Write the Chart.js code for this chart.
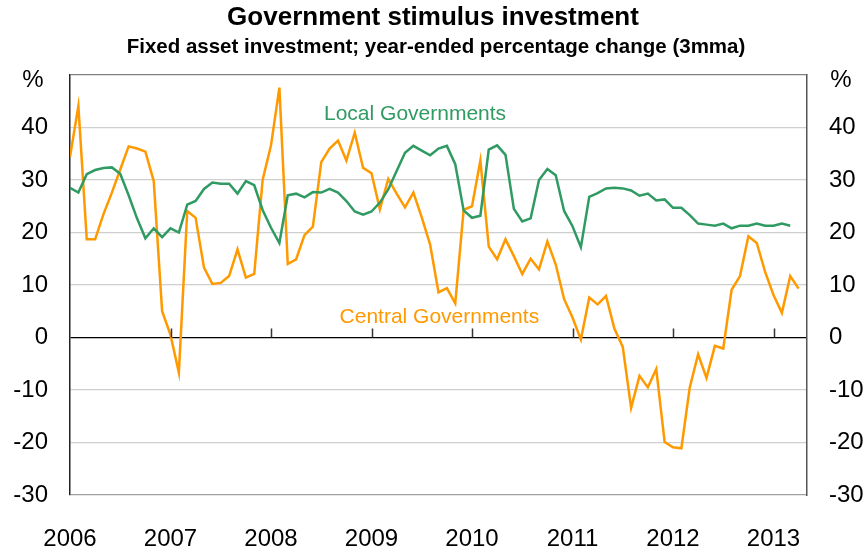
<!DOCTYPE html>
<html>
<head>
<meta charset="utf-8">
<title>Government stimulus investment</title>
<script src="https://cdn.jsdelivr.net/npm/chart.js@4.4.1/dist/chart.umd.min.js"></script>
<style>
  html, body { margin: 0; padding: 0; background: #fff; }
  #wrap { width: 867px; height: 551px; }
</style>
</head>
<body>
<div id="wrap"><canvas id="chart" width="867" height="551"></canvas></div>
<script>
// Monthly data, Jan 2006 onwards (index 0 = Jan 2006)
const years = ["2006", "2007", "2008", "2009", "2010", "2011", "2012", "2013"];

const localGov = [
    28.5, 27.6, 31.1, 31.9, 32.3, 32.4, 31.2, 27.1, 22.7, 18.9, 20.8, 19.1,
    20.8, 20.0, 25.3, 26.0, 28.3, 29.5, 29.3, 29.3, 27.4, 29.8, 29.0, 24.3,
    20.9, 18.0, 27.1, 27.4, 26.7, 27.7, 27.6, 28.3, 27.6, 26.0, 24.0, 23.4,
    24.0, 25.7, 28.2, 31.7, 35.2, 36.5, 35.6, 34.7, 36.0, 36.5, 33.0, 24.2,
    22.8, 23.2, 35.8, 36.6, 34.8, 24.5, 22.1, 22.7, 30.0, 32.1, 30.9, 24.1,
    21.2, 17.2, 26.8, 27.5, 28.4, 28.5, 28.4, 28.0, 27.0, 27.4, 26.1, 26.3,
    24.7, 24.7, 23.3, 21.7, 21.5, 21.3, 21.7, 20.8, 21.3, 21.3, 21.7, 21.3,
    21.3, 21.7, 21.3
];

const centralGov = [
    34.4, 44.1, 18.7, 18.7, 23.5, 27.6, 32.0, 36.4, 36.0, 35.4, 29.8, 5.0,
    0.5, -6.7, 24.1, 22.8, 13.3, 10.2, 10.4, 11.7, 16.8, 11.4, 12.1, 30.0,
    36.6, 47.6, 14.0, 14.9, 19.5, 21.1, 33.4, 36.0, 37.5, 33.7, 39.0, 32.3,
    31.3, 24.4, 30.2, 27.4, 24.8, 27.6, 22.9, 17.7, 8.6, 9.4, 6.5, 24.3,
    25.0, 33.7, 17.3, 14.9, 18.7, 15.5, 12.1, 15.0, 13.0, 18.3, 13.9, 7.3,
    3.8, -0.4, 7.6, 6.3, 7.9, 1.7, -1.8, -13.4, -7.3, -9.5, -6.0, -19.9,
    -20.9, -21.1, -9.5, -3.2, -7.7, -1.6, -2.1, 9.1, 11.7, 19.3, 18.0, 12.5,
    8.1, 4.7, 11.7, 9.3
];

const FONT = "'Liberation Sans', Arial, sans-serif";
const ORANGE = "#ff9900";
const GREEN = "#2f9a62";

function toPoints(arr) {
    return arr.map((v, i) => ({ x: i, y: v }));
}

// the top tick carries the unit sign, drawn separately a little lower
function yLabel(v) {
    return v === 50 ? "" : v;
}

function gridColour(ctx) {
    const v = ctx.tick.value;
    if (v === 0) return "#000000";
    if (v === 50) return "#808080";
    if (v === -30) return "#a0a0a0";
    return "#cfcfcf";
}

// Titles, series labels, unit signs and the year ticks on the zero line
const decorations = {
    id: "decorations",
    afterDatasetsDraw(chart) {
        const ctx = chart.ctx;
        const x = chart.scales.x;
        const y = chart.scales.y;
        const zero = y.getPixelForValue(0);
        const area = chart.chartArea;

        ctx.save();
        ctx.strokeStyle = "#333";
        ctx.lineWidth = 1.5;
        years.forEach((yr, i) => {
            if (i === 0) return;
            const px = Math.round(x.getPixelForValue(i * 12)) + 0.5;
            ctx.beginPath();
            ctx.moveTo(px, zero);
            ctx.lineTo(px, zero - 9);
            ctx.stroke();
        });

        ctx.textAlign = "center";
        ctx.textBaseline = "middle";
        ctx.fillStyle = "#000";
        ctx.font = "bold 26px " + FONT;
        ctx.fillText("Government stimulus investment", 433, 18);
        ctx.font = "bold 20.5px " + FONT;
        ctx.fillText("Fixed asset investment; year-ended percentage change (3mma)", 436, 47);

        ctx.font = "24px " + FONT;
        ctx.fillText("%", area.left - 37, area.top + 5);
        ctx.fillText("%", area.right + 34, area.top + 5);

        ctx.font = "21px " + FONT;
        ctx.fillStyle = GREEN;
        ctx.fillText("Local Governments", x.getPixelForValue(41.2), y.getPixelForValue(42.6));
        ctx.fillStyle = ORANGE;
        ctx.fillText("Central Governments", x.getPixelForValue(44.1), y.getPixelForValue(3.8));
        ctx.restore();
    }
};

const ctx = document.getElementById("chart").getContext("2d");

new Chart(ctx, {
    type: "line",
    data: {
        datasets: [
            {
                label: "Local Governments",
                data: toPoints(localGov),
                borderColor: GREEN,
                borderWidth: 2.5,
                pointRadius: 0,
                tension: 0,
                yAxisID: "y"
            },
            {
                label: "Central Governments",
                data: toPoints(centralGov),
                borderColor: ORANGE,
                borderWidth: 2.5,
                pointRadius: 0,
                tension: 0,
                yAxisID: "y"
            }
        ]
    },
    options: {
        responsive: false,
        animation: false,
        layout: { padding: { top: 75, left: 0, right: 0, bottom: 0 } },
        plugins: {
            legend: { display: false },
            tooltip: { enabled: false }
        },
        scales: {
            x: {
                type: "linear",
                min: 0,
                max: 88,
                afterBuildTicks: (scale) => {
                    scale.ticks = years.map((yr, i) => ({ value: i * 12 }));
                },
                afterFit: (scale) => { scale.height = 56; },
                grid: { display: false, drawTicks: false },
                border: { display: false },
                ticks: {
                    autoSkip: false,
                    maxRotation: 0,
                    padding: 30,
                    color: "#000",
                    font: { family: FONT, size: 24 },
                    callback: (v) => years[Math.round(v / 12)]
                }
            },
            y: {
                position: "left",
                min: -30,
                max: 50,
                afterFit: (scale) => { scale.width = 70; },
                grid: { color: gridColour, lineWidth: 1.3, drawTicks: false },
                border: { display: true, color: "#222", width: 1.5 },
                ticks: {
                    stepSize: 10,
                    padding: 22,
                    color: "#000",
                    font: { family: FONT, size: 24 },
                    callback: yLabel
                }
            },
            y2: {
                position: "right",
                min: -30,
                max: 50,
                afterFit: (scale) => { scale.width = 60; },
                grid: { display: false, drawTicks: false },
                border: { display: true, color: "#555", width: 1.5 },
                ticks: {
                    stepSize: 10,
                    padding: 22,
                    color: "#000",
                    font: { family: FONT, size: 24 },
                    callback: yLabel
                }
            }
        }
    },
    plugins: [decorations]
});
</script>
</body>
</html>
